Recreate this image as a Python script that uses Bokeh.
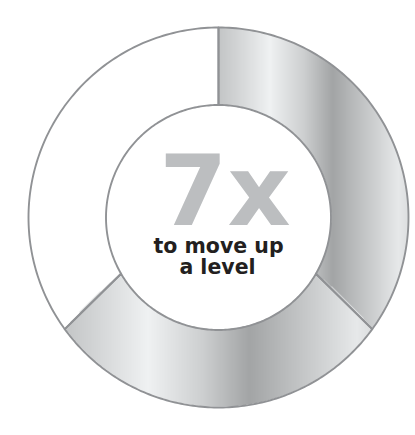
import numpy as np
from bokeh.plotting import figure
from bokeh.models import Range1d
from bokeh.core.properties import value
from bokeh.embed import file_html
from bokeh.resources import INLINE

# Donut: three steps, clockwise from 12 o'clock; two shaded (metallic), one open
segments = ["step 1", "step 2", "step 3"]
shares = [123, 114, 123]          # degrees of the ring
shaded = [True, True, False]
big_label = "7x"
sub_label = ["to move up", "a level"]

# ring size (data units = screen px)
R_OUT = 190
R_IN = 112.5
TILT = 3.0   # the dividers lean a little off the radius (deg)

# metallic look: gray level across each shaded segment, left -> right
grad_pos = [0.0, 0.08, 0.27, 0.45, 0.60, 0.78, 0.95, 1.0]
grad_gray = [0xc6, 0xd2, 0xf2, 0xcf, 0xa5, 0xc8, 0xe9, 0xdf]

# boundary angles (deg, math convention), wedges run clockwise
bounds = 90 - np.concatenate([[0], np.cumsum(shares)]).astype(float)
lean = TILT * np.sign(np.round(np.cos(np.radians(bounds)), 6)) \
    * -np.sign(np.round(np.sin(np.radians(bounds)), 6))
b_in = bounds + lean
b_out = bounds - lean

# wedge outlines as polygons
wx, wy = [], []
for i in range(len(shares)):
    a_out = np.radians(np.linspace(b_out[i], b_out[i + 1], 120))
    a_in = np.radians(np.linspace(b_in[i + 1], b_in[i], 120))
    wx.append(list(np.concatenate([R_OUT * np.cos(a_out), R_IN * np.cos(a_in)])))
    wy.append(list(np.concatenate([R_OUT * np.sin(a_out), R_IN * np.sin(a_in)])))

# gradient fill as an rgba image masked to the shaded wedges
N = 2 * 2 * R_OUT
xs = np.linspace(-R_OUT, R_OUT, N)
X, Y = np.meshgrid(xs, xs)
rad = np.hypot(X, Y)
ang = np.degrees(np.arctan2(Y, X))
ring = (rad >= R_IN) & (rad <= R_OUT)
f = np.clip((rad - R_IN) / (R_OUT - R_IN), 0, 1)

img = np.zeros((N, N), dtype=np.uint32)
view = img.view(dtype=np.uint8).reshape((N, N, 4))
for i, sh in enumerate(shaded):
    if not sh:
        continue
    start = b_in[i] + (b_out[i] - b_in[i]) * f
    end = b_in[i + 1] + (b_out[i + 1] - b_in[i + 1]) * f
    inseg = ring & (((start - ang) % 360) <= (start - end))
    x0, x1 = X[inseg].min(), X[inseg].max()
    t = (X - x0) / (x1 - x0)
    g = np.interp(t, grad_pos, grad_gray)
    view[inseg, 0] = np.clip(g[inseg] - 2, 0, 255)
    view[inseg, 1] = np.clip(g[inseg], 0, 255)
    view[inseg, 2] = np.clip(g[inseg] + 1, 0, 255)
    view[inseg, 3] = 255

p = figure(width=415, height=435, output_backend="svg", toolbar_location=None,
           x_range=Range1d(-218, 197), y_range=Range1d(-218, 217),
           x_axis_type=None, y_axis_type=None, min_border=0)
p.grid.visible = False
p.outline_line_color = None
p.background_fill_color = "white"
p.border_fill_color = "white"

p.image_rgba(image=[img], x=-R_OUT, y=-R_OUT, dw=2 * R_OUT, dh=2 * R_OUT)

p.patches(xs=wx, ys=wy, fill_color=None, line_color="#909295",
          line_width=1.9, line_join="round")

# center texts
p.text(x=[6.5], y=[27], text=[big_label], text_font=value("DejaVu Sans"),
       text_font_style="bold", text_font_size="98px", text_color="#bcbec0",
       text_align="center", text_baseline="alphabetic")
p.text(x=[0, -1], y=[-28, -49.7], text=sub_label, text_font=value("DejaVu Sans"),
       text_font_style="bold", text_font_size="20.5px", text_color="#231f20",
       text_align="center", text_baseline="alphabetic")

open("out.html", "w").write(file_html(p, INLINE))
